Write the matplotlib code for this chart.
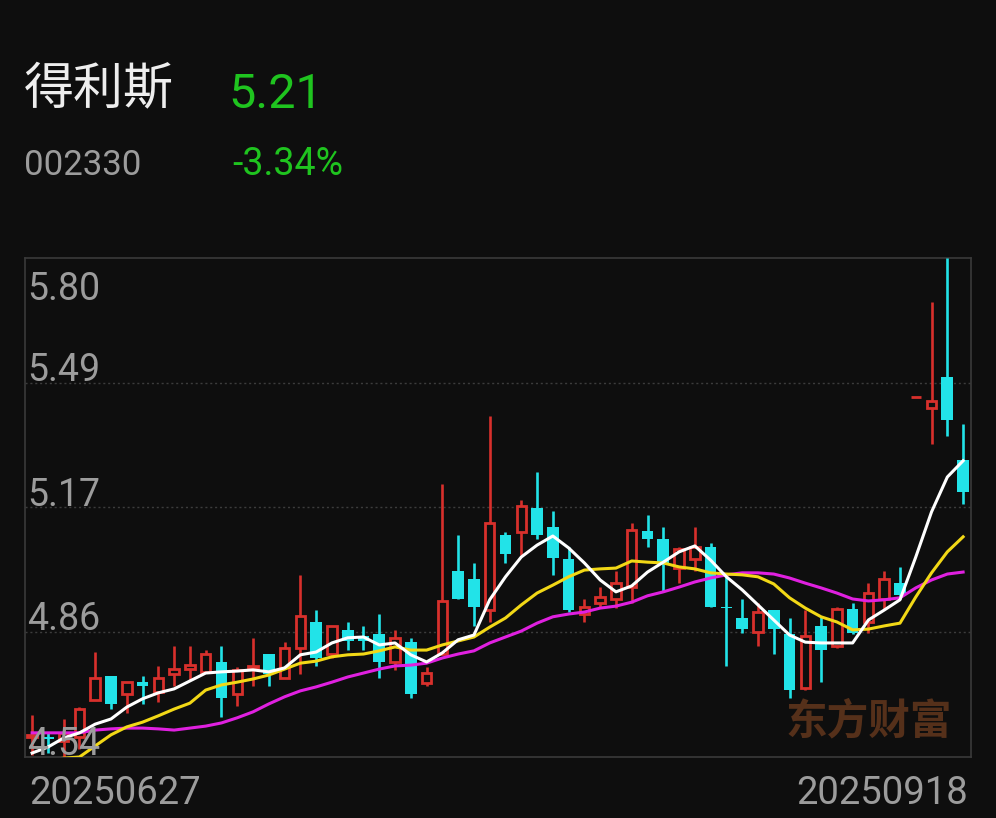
import numpy as np
import matplotlib.pyplot as plt
from matplotlib.transforms import blended_transform_factory

plt.rcParams['font.family'] = ['Roboto', 'Noto Sans CJK SC', 'DejaVu Sans']

name = '得利斯'
code = '002330'
last_price = '5.21'
change = '-3.34%'
date_first = '20250627'
date_last = '20250918'
y_labels = ['5.80', '5.49', '5.17', '4.86', '4.54']
y_max, y_min = 5.80, 4.54

# daily OHLC
opens = [4.59, 4.59, 4.58, 4.59, 4.685, 4.745, 4.70, 4.73, 4.705, 4.75,
         4.762, 4.755, 4.78, 4.70, 4.765, 4.80, 4.74, 4.815, 4.88, 4.80,
         4.86, 4.845, 4.85, 4.78, 4.83, 4.727, 4.80, 5.01, 4.99, 4.91,
         5.10, 5.108, 5.17, 5.12, 5.04, 4.90, 4.93, 4.94, 4.97, 5.11,
         5.09, 5.017, 5.04, 5.07, 4.92, 4.89, 4.855, 4.91, 4.85, 4.715,
         4.87, 4.82, 4.913, 4.88, 4.94, 4.98, 5.45, 5.42, 5.50, 5.29]
highs = [4.645, 4.60, 4.635, 4.665, 4.805, 4.745, 4.73, 4.745, 4.77, 4.82,
         4.82, 4.81, 4.82, 4.767, 4.84, 4.80, 4.83, 5.00, 4.91, 4.87,
         4.88, 4.87, 4.90, 4.86, 4.84, 4.767, 5.23, 5.10, 5.03, 5.40,
         5.108, 5.19, 5.26, 5.16, 5.07, 4.94, 4.97, 5.01, 5.13, 5.15,
         5.12, 5.07, 5.12, 5.08, 4.995, 4.94, 4.93, 4.91, 4.89, 4.91,
         4.895, 4.92, 4.93, 4.98, 5.01, 5.02, 5.45, 5.69, 5.80, 5.38]
lows = [4.545, 4.55, 4.54, 4.56, 4.685, 4.66, 4.65, 4.675, 4.68, 4.72,
        4.735, 4.755, 4.64, 4.67, 4.72, 4.72, 4.74, 4.75, 4.77, 4.79,
        4.81, 4.81, 4.74, 4.76, 4.69, 4.72, 4.80, 4.94, 4.87, 4.88,
        5.03, 5.05, 5.09, 5.00, 4.905, 4.88, 4.915, 4.915, 4.93, 5.07,
        4.96, 4.98, 5.01, 4.92, 4.77, 4.853, 4.82, 4.80, 4.69, 4.71,
        4.73, 4.815, 4.85, 4.853, 4.91, 4.94, 5.45, 5.33, 5.35, 5.18]
closes = [4.595, 4.585, 4.60, 4.66, 4.74, 4.675, 4.73, 4.72, 4.74, 4.762,
          4.772, 4.80, 4.69, 4.76, 4.77, 4.75, 4.815, 4.895, 4.79, 4.87,
          4.833, 4.833, 4.78, 4.84, 4.70, 4.752, 4.935, 4.94, 4.92, 5.13,
          5.053, 5.175, 5.10, 5.043, 4.91, 4.92, 4.945, 4.98, 5.113, 5.09,
          5.03, 5.065, 5.07, 4.92, 4.915, 4.863, 4.905, 4.863, 4.71, 4.845,
          4.81, 4.913, 4.853, 4.955, 4.99, 4.95, 5.45, 5.44, 5.39, 5.21]

# moving averages as drawn on the chart
ma5 = [4.550, 4.565, 4.588, 4.601, 4.623, 4.636, 4.666, 4.687, 4.702, 4.712,
       4.732, 4.752, 4.755, 4.757, 4.760, 4.755, 4.765, 4.798, 4.805, 4.828,
       4.841, 4.843, 4.823, 4.828, 4.798, 4.780, 4.803, 4.836, 4.848, 4.937,
       4.995, 5.045, 5.075, 5.098, 5.068, 5.030, 4.987, 4.957, 4.972, 5.007,
       5.032, 5.058, 5.073, 5.037, 4.995, 4.962, 4.924, 4.886, 4.848, 4.830,
       4.828, 4.828, 4.828, 4.886, 4.911, 4.937, 5.045, 5.159, 5.247, 5.288]
ma10 = [4.527, 4.532, 4.537, 4.540, 4.568, 4.596, 4.616, 4.628, 4.644, 4.661,
        4.676, 4.709, 4.722, 4.729, 4.737, 4.747, 4.762, 4.777, 4.782, 4.793,
        4.798, 4.800, 4.808, 4.818, 4.810, 4.810, 4.823, 4.833, 4.843, 4.868,
        4.891, 4.924, 4.954, 4.974, 4.995, 5.012, 5.015, 5.017, 5.035, 5.032,
        5.030, 5.020, 5.015, 5.005, 5.002, 5.000, 4.995, 4.977, 4.942, 4.916,
        4.894, 4.881, 4.861, 4.863, 4.871, 4.878, 4.944, 5.005, 5.058, 5.096]
ma20 = [4.601, 4.601, 4.601, 4.601, 4.608, 4.611, 4.613, 4.613, 4.611, 4.608,
        4.613, 4.618, 4.626, 4.639, 4.654, 4.674, 4.692, 4.707, 4.717, 4.729,
        4.742, 4.752, 4.762, 4.770, 4.772, 4.777, 4.790, 4.800, 4.808, 4.828,
        4.843, 4.858, 4.878, 4.894, 4.901, 4.906, 4.916, 4.921, 4.931, 4.947,
        4.957, 4.969, 4.982, 4.992, 5.000, 5.005, 5.005, 5.002, 4.992, 4.979,
        4.967, 4.954, 4.939, 4.934, 4.937, 4.942, 4.967, 4.987, 5.002, 5.007]

BG = '#0e0e0e'
RED = '#d8302c'
CYAN = '#22e3e8'
GREEN = '#1fc41f'
GREY = '#9c9c9c'

o = np.array(opens)
h = np.array(highs)
l = np.array(lows)
c = np.array(closes)
x = np.arange(len(o))
up = c >= o

fig = plt.figure(figsize=(9.96, 8.18), dpi=100, facecolor=BG)
ax = fig.add_axes([25 / 996, 61 / 818, 946 / 996, 499 / 818])
ax.set_facecolor(BG)
ax.set_xlim(-0.45, 59.5)
ax.set_ylim(y_min, y_max)
ax.set_xticks([])
ax.set_yticks([])
for s in ax.spines.values():
    s.set_color('#3a3a3a')
    s.set_linewidth(1.2)

levels = np.linspace(y_max, y_min, 5)
for lv in levels[1:-1]:
    ax.axhline(lv, color='#3c3c3c', lw=1.0, ls=(0, (1.5, 2)), zorder=1)

# wicks, then bodies on top
ax.vlines(x[up], l[up], h[up], color=RED, lw=1.9, zorder=3)
ax.vlines(x[~up], l[~up], h[~up], color=CYAN, lw=1.9, zorder=3)
ax.bar(x[up], c[up] - o[up], bottom=o[up], width=0.6, facecolor=BG,
       edgecolor=RED, linewidth=2.0, zorder=4)
ax.bar(x[~up], c[~up] - o[~up], bottom=o[~up], width=0.74, color=CYAN,
       linewidth=0, zorder=4)

ax.plot(x, ma20, color='#e020e0', lw=2.2, zorder=5)
ax.plot(x, ma10, color='#f2d816', lw=2.2, zorder=5)
ax.plot(x, ma5, color='white', lw=2.2, zorder=6)

tr = blended_transform_factory(ax.transAxes, ax.transData)
for i, (lv, lab) in enumerate(zip(levels, y_labels)):
    off = -42 if i == 0 else 2
    ax.annotate(lab, (0.002, lv), xycoords=tr, xytext=(0, off),
                textcoords='offset pixels', va='baseline', ha='left',
                fontsize=27, color=GREY, zorder=7)

fig.text(869 / 996, 1 - 721 / 818, '东方财富', ha='center', va='center',
         fontsize=30, fontweight='bold', color='#55301a',
         family=['Noto Sans CJK SC'], zorder=0)

fig.text(29 / 996, 1 - 804 / 818, date_first, ha='left', va='baseline',
         fontsize=27.5, color=GREY)
fig.text(968 / 996, 1 - 804 / 818, date_last, ha='right', va='baseline',
         fontsize=27.5, color=GREY)

fig.text(24 / 996, 1 - 104 / 818, name, ha='left', va='baseline',
         fontsize=36, color='#eeeeee', family=['Noto Sans CJK SC', 'DejaVu Sans'])
fig.text(228 / 996, 1 - 108 / 818, last_price, ha='left', va='baseline',
         fontsize=35, color=GREEN)
fig.text(24 / 996, 1 - 175 / 818, code, ha='left', va='baseline',
         fontsize=25, color=GREY)
fig.text(232 / 996, 1 - 175 / 818, change, ha='left', va='baseline',
         fontsize=27, color=GREEN)

fig.savefig('out.png', dpi=100, facecolor=BG)
